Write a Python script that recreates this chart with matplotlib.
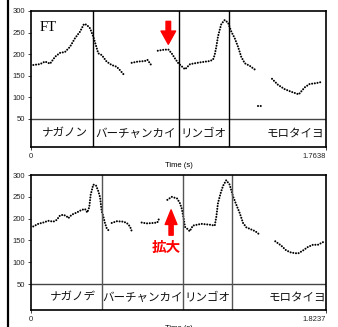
"""Pitch contours of two readings (FT): top = normal, bottom = expanded range."""
import matplotlib
matplotlib.use("Agg")
import matplotlib.pyplot as plt
from matplotlib.lines import Line2D

plt.rcParams["font.family"] = ["Liberation Sans", "DejaVu Sans"]
JP = ["Noto Sans CJK JP", "DejaVu Sans"]

# ---- top panel (duration 1.7638 s) ----
TOP_END = 1.7638
top_bounds = [0.371, 0.885, 1.184]
top_labels = ["ナガノン", "バーチャンカイ", "リンゴオ", "モロタイヨ"]
top_label_t = [0.203, 0.622, 1.030, 1.581]

top_t1 = [0.014, 0.054, 0.084, 0.114, 0.144, 0.173, 0.203, 0.233, 0.263, 0.293,
          0.317, 0.333, 0.353, 0.373, 0.393, 0.402, 0.423, 0.452, 0.482, 0.512,
          0.532, 0.552]
top_f1 = [175, 177, 183, 178, 194, 203, 205, 217, 237, 252,
          270, 268, 260, 240, 214, 202, 198, 183, 175, 171,
          163, 154]
top_t2 = [0.602, 0.640, 0.680, 0.696, 0.722]
top_f2 = [180, 183, 184, 187, 173]
top_t3 = [0.758, 0.789, 0.821, 0.841, 0.861, 0.881, 0.921, 0.951, 1.010, 1.066,
          1.088, 1.098, 1.108, 1.118, 1.128, 1.138, 1.158, 1.178, 1.198, 1.218,
          1.238, 1.257, 1.278, 1.308, 1.347]
top_f3 = [208, 210, 211, 202, 190, 179, 165, 177, 181, 184,
          187, 198, 217, 241, 256, 270, 279, 273, 252, 237,
          217, 194, 179, 173, 162]
top_t4 = [1.357, 1.372, 1.387]
top_f4 = [79, 79, 79]
top_t5 = [1.441, 1.477, 1.517, 1.556, 1.601, 1.636, 1.666, 1.706, 1.740]
top_f5 = [143, 129, 119, 113, 107, 123, 131, 133, 136]

# ---- bottom panel (duration 1.8237 s) ----
BOT_END = 1.8237
bot_bounds = [0.439, 0.940, 1.243]
bot_labels = ["ナガノデ", "バーチャンカイ", "リンゴオ", "モロタイヨ"]
bot_label_t = [0.257, 0.688, 1.090, 1.644]

bot_t1 = [0.014, 0.045, 0.076, 0.107, 0.138, 0.159, 0.179, 0.200, 0.221, 0.231,
          0.252, 0.283, 0.313, 0.334, 0.348, 0.360, 0.369, 0.385, 0.402, 0.416,
          0.427, 0.437, 0.447, 0.457, 0.468, 0.484]
bot_f1 = [182, 188, 191, 195, 193, 197, 207, 209, 205, 201,
          209, 214, 220, 222, 214, 226, 255, 278, 276, 263,
          249, 217, 205, 190, 178, 171]
bot_t2 = [0.499, 0.530, 0.571, 0.592, 0.612, 0.623]
bot_f2 = [190, 194, 193, 190, 182, 171]
bot_t3 = [0.684, 0.715, 0.756, 0.781, 0.793]
bot_f3 = [191, 189, 190, 191, 201]
bot_t4 = [0.843, 0.870, 0.904, 0.921, 0.932, 0.942, 0.952, 0.971, 0.981, 1.001,
          1.053, 1.105, 1.136, 1.146, 1.156, 1.173, 1.187, 1.207, 1.228, 1.249,
          1.269, 1.290, 1.311, 1.331, 1.362, 1.387, 1.414]
bot_f4 = [243, 250, 246, 235, 223, 204, 181, 175, 171, 184,
          188, 186, 184, 205, 236, 259, 275, 288, 278, 251,
          232, 213, 190, 180, 175, 171, 163]
bot_t5 = [1.510, 1.547, 1.578, 1.609, 1.651, 1.682, 1.712, 1.743, 1.774, 1.805]
bot_f5 = [148, 138, 127, 122, 120, 127, 135, 140, 140, 146]

yticks = [50, 100, 150, 200, 250, 300]


def pitch_panel(ax, segs, end, ymin, bounds, labels, label_t, bcolor):
    for t, f in segs:
        ax.plot(t, f, color="black", lw=1.5, linestyle=(0, (0.01, 1.3)),
                dash_capstyle="round")
    ax.set_xlim(0, end)
    ax.set_ylim(ymin, 300)
    ax.axhline(50, color="#444444", lw=1.0)
    for b in bounds:
        ax.axvline(b, color=bcolor, lw=1.0)
    for lab, t in zip(labels, label_t):
        ax.text(t, (ymin + 50) / 2, lab, ha="center", va="center",
                fontsize=8.3, family=JP, color="#111111")
    ax.set_yticks(yticks)
    ax.set_yticklabels([str(v) for v in yticks])
    ax.set_xticks([0, end])
    ax.set_xticklabels(["0", f"{end:g}"])
    ax.get_xticklabels()[-1].set_ha("right")
    ax.tick_params(labelsize=5.5, length=2.5, width=0.6, pad=1.5,
                   colors="#222222")
    ax.set_xlabel("Time (s)", fontsize=5.5, labelpad=2)
    for s in ax.spines.values():
        s.set_linewidth(1.2)


fig = plt.figure(figsize=(3.38, 3.27), dpi=100)
ax1 = fig.add_axes([0.0917, 0.5505, 0.8728, 0.4159])
ax2 = fig.add_axes([0.0917, 0.052, 0.8728, 0.4128])

pitch_panel(ax1, [(top_t1, top_f1), (top_t2, top_f2), (top_t3, top_f3),
                  (top_t4, top_f4), (top_t5, top_f5)],
            TOP_END, -14.8, top_bounds, top_labels, top_label_t, "black")
pitch_panel(ax2, [(bot_t1, bot_f1), (bot_t2, bot_f2), (bot_t3, bot_f3),
                  (bot_t4, bot_f4), (bot_t5, bot_f5)],
            BOT_END, -9.6, bot_bounds, bot_labels, bot_label_t, "#555555")

ax1.text(0.03, 0.93, "FT", transform=ax1.transAxes, ha="left", va="top",
         fontsize=10.5, family="Liberation Serif")

# red arrows
ax1.annotate("", xy=(0.821, 223), xytext=(0.821, 276),
             arrowprops=dict(width=3.3, headwidth=10.5, headlength=9.5,
                             color="red", shrink=0))
ax2.annotate("", xy=(0.866, 220), xytext=(0.866, 162),
             arrowprops=dict(width=3.0, headwidth=8.5, headlength=10.5,
                             color="red", shrink=0))
ax2.text(0.835, 135, "拡大", ha="center", va="center", fontsize=10.5,
         fontweight="bold", color="red", family=JP)

# black bar at the left edge
fig.add_artist(Line2D([7.5 / 338, 7.5 / 338], [0, 1], color="black", lw=1.6,
                      transform=fig.transFigure))

fig.savefig("out.png", dpi=100)
